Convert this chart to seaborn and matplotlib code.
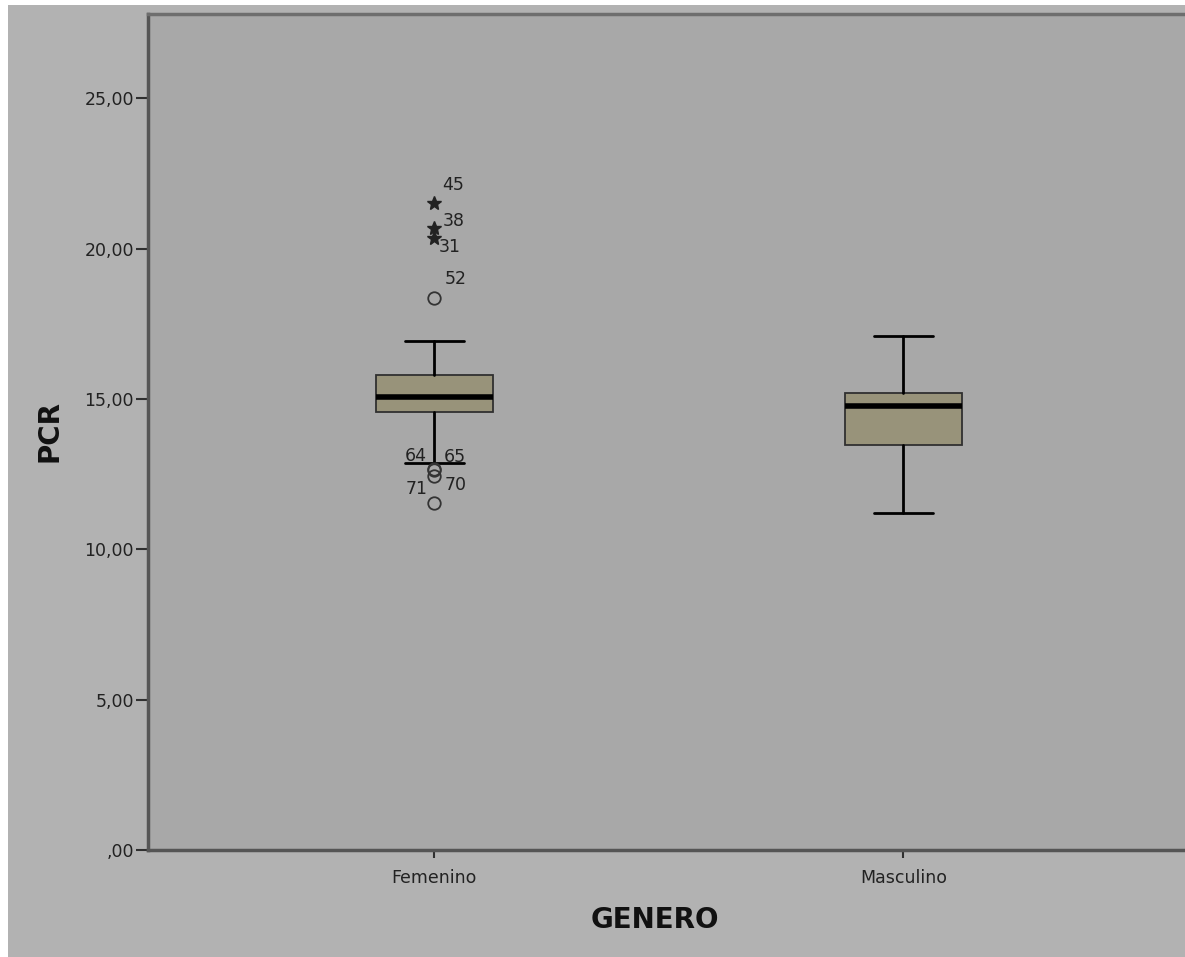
import matplotlib
matplotlib.use("Agg")
import matplotlib.pyplot as plt
import seaborn as sns
import pandas as pd

# Groups and box summaries (PCR by GENERO)
groups = ["Femenino", "Masculino"]
whisker_low = [12.88, 11.20]
q1 = [14.58, 13.46]
median = [15.06, 14.75]
q3 = [15.78, 15.19]
whisker_high = [16.92, 17.09]

# Flagged cases (Femenino only)
out_case = ["45", "38", "31", "52", "64", "65", "70", "71"]
out_value = [21.52, 20.69, 20.35, 18.35, 12.68, 12.62, 12.43, 11.53]
out_kind = ["extreme", "extreme", "extreme", "outlier",
            "outlier", "outlier", "outlier", "outlier"]
out_group = ["Femenino"] * 8
# label offsets in pixels relative to each point
out_dx = [19, 19, 15, 21, -18, 21, 21, -18]
out_dy = [18, 7, -9, 19, 13, 13, -9, 14]

y_ticks = [0, 5, 10, 15, 20, 25]
y_ticklabels = [",00", "5,00", "10,00", "15,00", "20,00", "25,00"]

sns.set_theme(style="white", rc={
    "figure.facecolor": "#b2b2b2",
    "axes.facecolor": "#a8a8a8",
    "axes.edgecolor": "#505050",
})
plt.rcParams["font.family"] = ["DejaVu Sans"]

fig = plt.figure(figsize=(11.85, 9.57), dpi=100)
ax = fig.add_axes([148 / 1185, 1 - 850 / 957, 1 - 148 / 1185, (850 - 14) / 957])

stats = [dict(label=g, whislo=wl, q1=a, med=m, q3=b, whishi=wh, fliers=[])
         for g, wl, a, m, b, wh in zip(groups, whisker_low, q1, median, q3, whisker_high)]
ax.bxp(stats, positions=range(len(groups)), widths=0.25, capwidths=0.125,
       patch_artist=True, showfliers=False,
       boxprops=dict(facecolor="#98937a", edgecolor="#303030", linewidth=1.3),
       medianprops=dict(color="black", linewidth=4, solid_capstyle="butt"),
       whiskerprops=dict(color="black", linewidth=2),
       capprops=dict(color="black", linewidth=2))

df = pd.DataFrame({"group": out_group, "value": out_value, "kind": out_kind,
                   "case": out_case})
df["pos"] = df["group"].map({g: i for i, g in enumerate(groups)})

circ = df[df["kind"] == "outlier"]
star = df[df["kind"] == "extreme"]
ax.plot(circ["pos"], circ["value"], linestyle="none", marker="o", markersize=9,
        markerfacecolor="none", markeredgecolor="#333333", markeredgewidth=1.3)
ax.plot(star["pos"], star["value"], linestyle="none", marker="*", markersize=10,
        color="#222222")

for (_, r), dx, dy in zip(df.iterrows(), out_dx, out_dy):
    ax.annotate(r["case"], (r["pos"], r["value"]), xytext=(dx, dy),
                textcoords="offset pixels", ha="center", va="center",
                fontsize=12.5, color="#222222")

ax.set_xlim(-0.61, 1.60)
ax.set_ylim(0, 27.8)
ax.set_yticks(y_ticks)
ax.set_yticklabels(y_ticklabels)
ax.set_xticks(range(len(groups)))
ax.set_xticklabels(groups)
ax.tick_params(axis="y", direction="out", length=9, width=1.5, color="#303030",
               labelsize=12.5, pad=1, left=True, labelcolor="#222222")
ax.tick_params(axis="x", direction="out", length=6, width=1.5, color="#303030",
               labelsize=12.5, pad=8, bottom=True, labelcolor="#222222")

for side in ["left", "top", "bottom"]:
    ax.spines[side].set_visible(True)
    ax.spines[side].set_linewidth(2.5)
    ax.spines[side].set_color("#555555")
ax.spines["top"].set_color("#6e6e6e")
ax.spines["right"].set_visible(False)

ax.set_xlabel("GENERO", fontsize=20, fontweight="bold", color="#111111")
ax.set_ylabel("PCR", fontsize=20, fontweight="bold", color="#111111")
ax.xaxis.set_label_coords((655 - 148) / 1037, (850 - 920) / 836)
ax.xaxis.label.set_va("center")
ax.yaxis.set_label_coords((50 - 148) / 1037, (850 - 431) / 836)
ax.yaxis.label.set_va("center")

# thin white margin along the top and left edges
fig.patches.append(plt.Rectangle((0, 1 - 5 / 957), 1, 5 / 957, transform=fig.transFigure,
                                 facecolor="white", edgecolor="none", zorder=10))
fig.patches.append(plt.Rectangle((0, 0), 8 / 1185, 1, transform=fig.transFigure,
                                 facecolor="white", edgecolor="none", zorder=10))

fig.savefig("out.png", dpi=100)
